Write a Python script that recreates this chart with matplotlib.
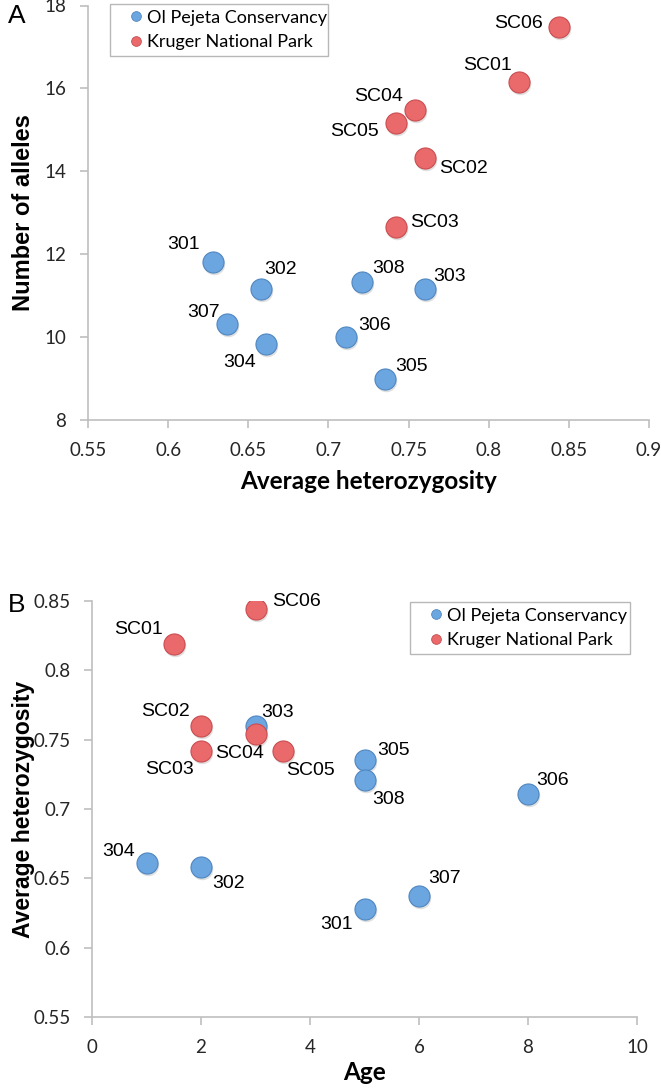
import matplotlib
matplotlib.use("Agg")
import matplotlib.pyplot as plt
from matplotlib.lines import Line2D
from matplotlib.transforms import ScaledTranslation

# --- data ---
ol_ids = ["301", "302", "303", "304", "305", "306", "307", "308"]
ol_het = [0.628, 0.658, 0.760, 0.661, 0.735, 0.711, 0.637, 0.721]
ol_alleles = [11.82, 11.16, 11.16, 9.83, 9.0, 10.0, 10.32, 11.33]
ol_age = [5, 2, 3, 1, 5, 8, 6, 5]

kr_ids = ["SC01", "SC02", "SC03", "SC04", "SC05", "SC06"]
kr_het = [0.819, 0.760, 0.742, 0.754, 0.742, 0.844]
kr_alleles = [16.16, 14.32, 12.66, 15.48, 15.16, 17.49]
kr_age = [1.5, 2, 2, 3, 3.5, 3]

legend_names = ["Ol Pejeta Conservancy", "Kruger National Park"]

# label offsets in pixels (dx, dy; dy positive = up)
offs_a = {
    "SC06": (-41, 3), "SC01": (-32, 16), "SC04": (-36, 13), "SC05": (-41, -8),
    "SC02": (39, -10), "SC03": (39, 4),
    "301": (-29, 17), "302": (19, 20), "307": (-24, 11), "304": (-26, -18),
    "306": (28, 12), "308": (26, 13), "305": (27, 12), "303": (25, 13),
}
offs_b = {
    "SC06": (41, 8), "SC01": (-35, 14), "SC02": (-36, 14), "SC04": (-16, -19),
    "SC03": (-31, -19), "SC05": (28, -20),
    "303": (22, 13), "305": (29, 10), "308": (24, -20), "306": (25, 13),
    "304": (-28, 12), "302": (28, -16), "307": (26, 18), "301": (-28, -16),
}

BLUE = "#6ca6e0"
BLUE_EDGE = "#4f86c0"
RED = "#ea6a6c"
RED_EDGE = "#c94c4f"
AXCOL = "#bfbfbf"
TICKFONT = "Lato"
PTFONT = "Liberation Sans"

W, H = 661, 1089
fig = plt.figure(figsize=(W / 100, H / 100), dpi=100)


def px_axes(l, t, r, b):
    return fig.add_axes([l / W, 1 - b / H, (r - l) / W, (b - t) / H])


def glossy(ax, x, y, face, edge):
    shadow = ax.transData + ScaledTranslation(1 / 100, -2 / 100, fig.dpi_scale_trans)
    ax.scatter(x, y, s=240, color="#000000", alpha=0.12, zorder=2, linewidths=0,
               transform=shadow)
    ax.scatter(x, y, s=230, color=face, edgecolors=edge, linewidths=0.8, zorder=3)


def style(ax):
    for s in ["top", "right"]:
        ax.spines[s].set_visible(False)
    for s in ["left", "bottom"]:
        ax.spines[s].set_color(AXCOL)
        ax.spines[s].set_linewidth(1.2)
    ax.tick_params(direction="out", length=6, width=1.2, color=AXCOL,
                   labelsize=13.5, labelcolor="#262626", pad=9.5)
    for lab in ax.get_xticklabels() + ax.get_yticklabels():
        lab.set_fontfamily(TICKFONT)
    ax.set_facecolor("none")


def labels(ax, xs, ys, ids, offs):
    for x, y, t in zip(xs, ys, ids):
        dx, dy = offs[t]
        ax.annotate(t, (x, y), xytext=(dx, dy), textcoords="offset pixels",
                    ha="center", va="center", fontsize=14, family=PTFONT,
                    color="black", zorder=5)


def add_legend(ax, box):
    handles = [Line2D([], [], marker="o", linestyle="none", markersize=7,
                      markerfacecolor=c, markeredgecolor=e, markeredgewidth=0.6)
               for c, e in [(BLUE, BLUE_EDGE), (RED, RED_EDGE)]]
    leg = ax.legend(handles, legend_names, loc="upper left", bbox_to_anchor=box,
                    mode="expand", borderaxespad=0, frameon=True, fancybox=False,
                    handletextpad=-0.45, handlelength=2.2, borderpad=0.32,
                    labelspacing=0.47, prop={"family": TICKFONT, "size": 13})
    leg.get_frame().set_edgecolor("#a6a6a6")
    leg.get_frame().set_linewidth(1.0)


# ---------- panel A ----------
axA = px_axes(88, 5.5, 649, 420)
axA.set_xlim(0.55, 0.9)
axA.set_ylim(8, 18)
axA.set_xticks([0.55, 0.6, 0.65, 0.7, 0.75, 0.8, 0.85, 0.9])
axA.set_xticklabels(["0.55", "0.6", "0.65", "0.7", "0.75", "0.8", "0.85", "0.9"])
axA.set_yticks([8, 10, 12, 14, 16, 18])
glossy(axA, ol_het, ol_alleles, BLUE, BLUE_EDGE)
glossy(axA, kr_het, kr_alleles, RED, RED_EDGE)
labels(axA, ol_het, ol_alleles, ol_ids, offs_a)
labels(axA, kr_het, kr_alleles, kr_ids, offs_a)
style(axA)
axA.set_xlabel("Average heterozygosity", family=TICKFONT, fontweight="bold", fontsize=17.5, labelpad=8)
axA.set_ylabel("Number of alleles", family=PTFONT, fontweight="bold", fontsize=17)
axA.yaxis.set_label_coords(-0.0945, 0.5)
add_legend(axA, (0.0392, 1.0036, 0.3886, 0))
fig.text(8 / W, 1 - 16 / H, "A", family=PTFONT, fontsize=19, va="center", ha="left")

# ---------- panel B ----------
axB = px_axes(92, 601, 637, 1017)
axB.set_xlim(0, 10)
axB.set_ylim(0.55, 0.85)
axB.set_xticks([0, 2, 4, 6, 8, 10])
axB.set_yticks([0.55, 0.6, 0.65, 0.7, 0.75, 0.8, 0.85])
axB.set_yticklabels(["0.55", "0.6", "0.65", "0.7", "0.75", "0.8", "0.85"])
glossy(axB, ol_age, ol_het, BLUE, BLUE_EDGE)
glossy(axB, kr_age, kr_het, RED, RED_EDGE)
labels(axB, ol_age, ol_het, ol_ids, offs_b)
labels(axB, kr_age, kr_het, kr_ids, offs_b)
style(axB)
axB.set_xlabel("Age", family=TICKFONT, fontweight="bold", fontsize=17.5, labelpad=4)
axB.set_ylabel("Average heterozygosity", family=PTFONT, fontweight="bold", fontsize=16.5)
axB.yaxis.set_label_coords(-0.1046, 0.5)
add_legend(axB, (0.5835, 0.9976, 0.4037, 0))
fig.text(8 / W, 1 - 605 / H, "B", family=PTFONT, fontsize=19, va="center", ha="left")

fig.savefig("out.png", dpi=100, facecolor="white")
